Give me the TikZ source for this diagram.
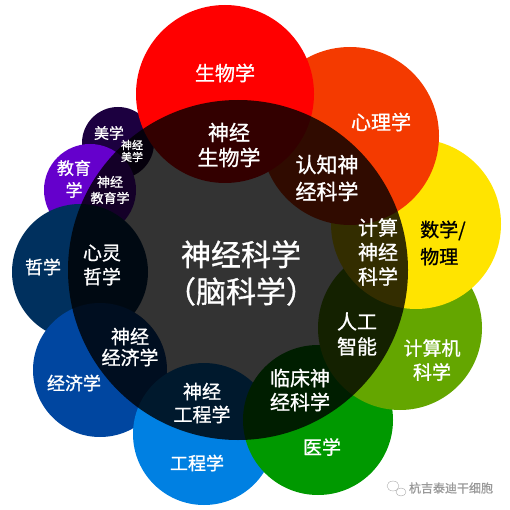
\documentclass[tikz,border=0pt]{standalone}
\usepackage{fontspec}
\newfontfamily\cjk[FakeBold=1]{Noto Sans CJK SC}
\usetikzlibrary{positioning}

\definecolor{biored}{HTML}{FF0000}
\definecolor{psyorange}{HTML}{F43A00}
\definecolor{mathyellow}{HTML}{FFE400}
\definecolor{csolive}{HTML}{64A600}
\definecolor{medgreen}{HTML}{009900}
\definecolor{engblue}{HTML}{0080E2}
\definecolor{ecoblue}{HTML}{0046A0}
\definecolor{phinavy}{HTML}{00305E}
\definecolor{edupurple}{HTML}{6500CC}
\definecolor{aesdark}{HTML}{1C0040}

\newcommand{\fs}[2]{\cjk\fontsize{#1}{#2}\selectfont}

\begin{document}
\begin{tikzpicture}[x=1pt,y=-1pt]
  \tikzset{
    field/.style={fill=#1},
    core/.style={fill=black, fill opacity=0.8},
    lbl/.style={text=white, align=center, inner sep=0pt},
    wmark/.style={text=gray!80, inner sep=0pt, font=\fs{12}{14}}
  }

  \useasboundingbox (0,0) rectangle (509,510);

  % Centres of the surrounding fields
  \coordinate (Aes) at (118,143);
  \coordinate (Edu) at (90,190);
  \coordinate (Phi) at (80,272);
  \coordinate (Eco) at (100,370);
  \coordinate (Eng) at (204,434);
  \coordinate (Med) at (318,420);
  \coordinate (CS) at (400,328);
  \coordinate (Math) at (416,224);
  \coordinate (Psy) at (350,136);
  \coordinate (Bio) at (225,94);
  \coordinate (Neuro) at (238,270);

  % Surrounding fields, back to front
  \fill[field=aesdark] (Aes) circle[radius=36pt];
  \fill[field=edupurple] (Edu) circle[radius=46pt];
  \fill[field=phinavy] (Phi) circle[radius=68pt];
  \fill[field=ecoblue] (Eco) circle[radius=67pt];
  \fill[field=engblue] (Eng) circle[radius=71pt];
  \fill[field=medgreen] (Med) circle[radius=75pt];
  \fill[field=csolive] (CS) circle[radius=82pt];
  \fill[field=mathyellow] (Math) circle[radius=85pt];
  \fill[field=psyorange] (Psy) circle[radius=89pt];
  \fill[field=biored] (Bio) circle[radius=89pt];

  % Neuroscience core, darkening the overlaps
  \fill[core] (Neuro) circle[radius=170pt];

  % Field labels
  \node[lbl, font=\fs{20}{24}] (bioL) at (225,73) {生物学};
  \node[lbl, font=\fs{20}{24}] (psyL) at (381,122) {心理学};
  \node[lbl, text=black, align=left, anchor=west, font=\fs{19}{27}] (mathL) at (420,243) {数学/\\物理};
  \node[lbl, font=\fs{19}{24}] (csL) at (432,360) {计算机\\科学};
  \node[lbl, font=\fs{19}{24}] (medL) at (322,447) {医学};
  \node[lbl, font=\fs{18}{24}] (engL) at (197,463) {工程学};
  \node[lbl, font=\fs{18}{24}] (ecoL) at (74,383) {经济学};
  \node[lbl, font=\fs{18}{24}] (phiL) at (43,267) {哲学};
  \node[lbl, font=\fs{17}{22}] (eduL) at (74,179) {教育\\学};
  \node[lbl, font=\fs{15}{18}] (aesL) at (109,133) {美学};

  % Overlap labels
  \node[lbl, font=\fs{21}{25}] (nbioL) at (229,145) {神经\\生物学};
  \node[lbl, font=\fs{21}{27}] (cogL) at (327,178) {认知神\\经科学};
  \node[lbl, font=\fs{20}{24.5}] (cnL) at (378,252) {计算\\神经\\科学};
  \node[lbl, font=\fs{20}{25}] (aiL) at (357,334) {人工\\智能};
  \node[lbl, font=\fs{20}{24}] (clinL) at (300,390) {临床神\\经科学};
  \node[lbl, font=\fs{19}{23}] (neL) at (202,403) {神经\\工程学};
  \node[lbl, font=\fs{19}{21}] (necoL) at (130,347) {神经\\经济学};
  \node[lbl, font=\fs{19}{24}] (mindL) at (102,265) {心灵\\哲学};
  \node[lbl, font=\fs{13}{16}] (neduL) at (110,190) {神经\\教育学};
  \node[lbl, font=\fs{11}{12}] (naesL) at (132,151) {神经\\美学};

  % Core label
  \node[lbl, font=\fs{30}{37}] (coreL) at (241,273) {神经科学\\（脑科学）};

  % Watermark
  \draw[gray!70, thin] (393,486) ellipse[x radius=6pt, y radius=5pt];
  \draw[gray!70, thin, fill=white] (401,492) ellipse[x radius=5pt, y radius=4pt];
  \node[wmark] (markL) at (451,488) {杭吉泰迪干细胞};
\end{tikzpicture}
\end{document}
